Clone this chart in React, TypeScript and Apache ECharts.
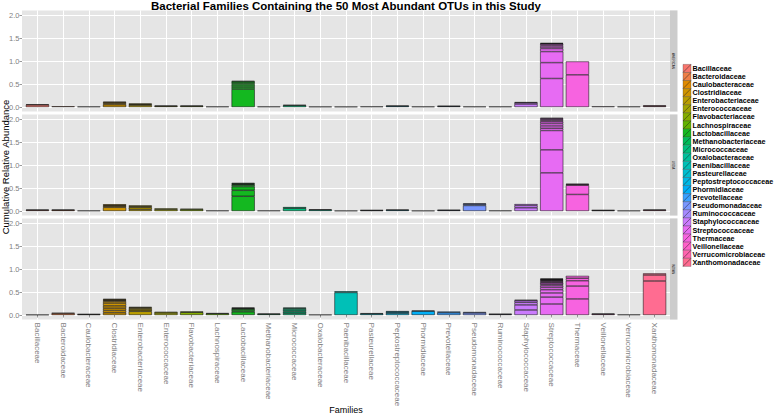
import React, { useEffect, useRef } from 'react';
import * as echarts from 'echarts';

const families = [
  'Bacillaceae', 'Bacteroidaceae', 'Caulobacteraceae', 'Clostridiaceae', 'Enterobacteriaceae',
  'Enterococcaceae', 'Flavobacteriaceae', 'Lachnospiraceae', 'Lactobacillaceae', 'Methanobacteriaceae',
  'Micrococcaceae', 'Oxalobacteraceae', 'Paenibacillaceae', 'Pasteurellaceae', 'Peptostreptococcaceae',
  'Phormidiaceae', 'Prevotellaceae', 'Pseudomonadaceae', 'Ruminococcaceae', 'Staphylococcaceae',
  'Streptococcaceae', 'Thermaceae', 'Veillonellaceae', 'Verrucomicrobiaceae', 'Xanthomonadaceae',
];

const familyColors = [
  '#F8766D', '#EF7F47', '#E08B00', '#CF9400', '#BA9E00',
  '#A2A500', '#85AD00', '#62B200', '#14B820', '#00BC59',
  '#00BF7D', '#00C19C', '#00C0B7', '#00BDD0', '#00B8E5',
  '#00AFF7', '#3BA1FF', '#7997FF', '#A58AFF', '#CA7BFD',
  '#E76BF3', '#F763E0', '#FF61CA', '#FF65AE', '#FF6C91',
];

const facetNames = ['AMERICAN', 'USDA', 'INDIAN'];
const yTickLabels = ['0.0', '0.5', '1.0', '1.5', '2.0'];

// stacked OTU abundances per family (bottom to top)
const americanSegments = [
  [0.045, 0.015], [0.015], [0.008], [0.05, 0.03, 0.02, 0.015], [0.04, 0.02, 0.015],
  [0.02, 0.01], [0.02, 0.01], [0.008], [0.39, 0.045, 0.045, 0.04, 0.03, 0.02], [0.008],
  [0.035, 0.01], [0.006], [0.005], [0.01], [0.02, 0.01],
  [0.008], [0.015, 0.01], [0.008], [0.008], [0.065, 0.03, 0.01],
  [0.62, 0.345, 0.24, 0.065, 0.035, 0.035, 0.03, 0.01, 0.01], [0.7, 0.29], [0.012], [0.008], [0.02, 0.015],
];

const usdaSegments = [
  [0.02, 0.01], [0.02, 0.01], [0.008], [0.08, 0.025, 0.02, 0.02], [0.035, 0.045, 0.02, 0.02],
  [0.035, 0.02], [0.03, 0.02], [0.008], [0.32, 0.13, 0.08, 0.035, 0.015, 0.015, 0.015], [0.008],
  [0.06, 0.025], [0.025, 0.01], [0.005], [0.012, 0.008], [0.02, 0.01],
  [0.005], [0.015, 0.01], [0.12, 0.03, 0.015], [0.008], [0.07, 0.05, 0.03],
  [0.83, 0.5, 0.42, 0.05, 0.05, 0.05, 0.04, 0.03, 0.02, 0.02, 0.015], [0.36, 0.2, 0.02, 0.01], [0.012, 0.008], [0.006], [0.02, 0.01],
];

const indianSegments = [
  [0.005], [0.03, 0.02], [0.012, 0.008], [0.05, 0.05, 0.05, 0.05, 0.06, 0.04, 0.02, 0.015, 0.015], [0.08, 0.03, 0.03, 0.02, 0.015],
  [0.045, 0.025], [0.06, 0.015], [0.03, 0.01], [0.07, 0.04, 0.025, 0.015, 0.01], [0.02, 0.01],
  [0.04, 0.035, 0.035, 0.035, 0.015], [0.005], [0.49, 0.025], [0.025, 0.015], [0.04, 0.025, 0.02],
  [0.085, 0.01], [0.05, 0.025], [0.045, 0.02], [0.015, 0.01], [0.11, 0.11, 0.055, 0.04, 0.015],
  [0.24, 0.15, 0.09, 0.07, 0.05, 0.04, 0.03, 0.03, 0.02, 0.02, 0.015, 0.015, 0.01, 0.01], [0.35, 0.28, 0.115, 0.055, 0.05], [0.02, 0.01], [0.008], [0.74, 0.13, 0.035],
];

const facetSegments = [americanSegments, usdaSegments, indianSegments];

const FONT = "'Liberation Sans', Arial, sans-serif";

export default function App() {
  const ref = useRef<HTMLDivElement>(null);
  useEffect(() => {
    document.body.style.margin = '0';
    const chart = echarts.init(ref.current!, null, { renderer: 'svg' });

    const panelLeft = 22;
    const panelWidth = 648;
    const unit = panelWidth / (families.length + 0.2);
    const panelTops = [10.4, 114.4, 218.4];
    const panelH = 101.2;
    const pxPerUnit = panelH / 2.2;

    const grids: any[] = [];
    const xAxes: any[] = [];
    const yAxes: any[] = [];
    const series: any[] = [];
    const graphics: any[] = [];

    // bar grids 0..2
    panelTops.forEach((top, f) => {
      grids.push({
        left: panelLeft + 0.1 * unit, width: families.length * unit, top, height: panelH,
        outerBoundsMode: 'none', containLabel: false,
      });
      const bottom = f === 2;
      xAxes.push({
        type: 'category', gridIndex: f, data: families,
        axisLine: { show: false },
        axisTick: { show: bottom, alignWithLabel: true, length: 2.5, lineStyle: { color: '#7F7F7F', width: 0.8 } },
        axisLabel: { show: bottom, rotate: -90, color: '#7F7F7F', fontSize: 8, fontFamily: FONT, margin: 3, interval: 0 },
        splitLine: { show: false },
      });
      yAxes.push({ type: 'value', gridIndex: f, min: -0.1, max: 2.1, show: false });
    });
    // vertical grid line grids 3..5
    panelTops.forEach((top, f) => {
      grids.push({ left: panelLeft - 0.4 * unit, width: (families.length + 1) * unit, top, height: panelH, outerBoundsMode: 'none' });
      xAxes.push({
        type: 'value', gridIndex: 3 + f, min: 0, max: families.length + 1, interval: 1,
        axisLine: { show: false }, axisTick: { show: false }, axisLabel: { show: false },
        splitLine: { show: true, lineStyle: { color: '#FFFFFF', width: 1 } },
      });
      yAxes.push({ type: 'value', gridIndex: 3 + f, min: 0, max: 1, show: false });
    });
    // horizontal grid line + y label grids 6..8
    panelTops.forEach((top, f) => {
      grids.push({ left: panelLeft, width: panelWidth, top: top + 0.1 * pxPerUnit, height: 2 * pxPerUnit, outerBoundsMode: 'none' });
      xAxes.push({ type: 'value', gridIndex: 6 + f, min: 0, max: 1, show: false });
      yAxes.push({
        type: 'value', gridIndex: 6 + f, min: 0, max: 2, interval: 0.5,
        axisLine: { show: false },
        axisTick: { show: true, length: 2.5, lineStyle: { color: '#7F7F7F', width: 0.8 } },
        axisLabel: {
          color: '#7F7F7F', fontSize: 7.5, fontFamily: FONT, margin: 2.5,
          formatter: (v: number) => yTickLabels[Math.round(v / 0.5)] ?? '',
        },
        splitLine: { show: true, lineStyle: { color: '#FFFFFF', width: 1 } },
      });
    });

    facetSegments.forEach((segs, f) => {
      const maxK = Math.max(...segs.map((s) => s.length));
      for (let k = 0; k < maxK; k++) {
        series.push({
          type: 'bar', xAxisIndex: f, yAxisIndex: f, stack: 'facet' + f, barWidth: '90%',
          silent: true,
          data: segs.map((s) => (s[k] !== undefined ? s[k] : null)),
          itemStyle: {
            color: (p: any) => familyColors[p.dataIndex],
            borderColor: '#000000', borderWidth: 0.5,
          },
        });
      }
    });

    // panel backgrounds and strips
    panelTops.forEach((top, f) => {
      graphics.push({ type: 'rect', z: -10, silent: true, shape: { x: panelLeft, y: top, width: panelWidth, height: panelH }, style: { fill: '#E5E5E5' } });
      graphics.push({ type: 'rect', z: -10, silent: true, shape: { x: panelLeft + panelWidth, y: top, width: 7.5, height: panelH }, style: { fill: '#CCCCCC' } });
      graphics.push({
        type: 'text', silent: true, x: panelLeft + panelWidth + 3.75, y: top + panelH / 2, rotation: -Math.PI / 2,
        style: { text: facetNames[f], fill: '#1A1A1A', fontSize: 3, fontFamily: FONT, align: 'center', verticalAlign: 'middle' },
      });
    });

    // titles
    graphics.push({
      type: 'text', silent: true, x: 346, y: 6,
      style: { text: 'Bacterial Families Containing the 50 Most Abundant OTUs in this Study', fill: '#000', fontSize: 11.5, fontWeight: 'bold', fontFamily: FONT, align: 'center', verticalAlign: 'middle' },
    });
    graphics.push({
      type: 'text', silent: true, x: 5, y: 167, rotation: Math.PI / 2,
      style: { text: 'Cumulative Relative Abundance', fill: '#000', fontSize: 9.5, fontFamily: FONT, align: 'center', verticalAlign: 'middle' },
    });
    graphics.push({
      type: 'text', silent: true, x: 346, y: 410,
      style: { text: 'Families', fill: '#000', fontSize: 9, fontFamily: FONT, align: 'center', verticalAlign: 'middle' },
    });

    // legend
    const legTop = 64.4;
    const keyH = 8.08;
    families.forEach((name, i) => {
      const y = legTop + i * keyH;
      graphics.push({ type: 'rect', silent: true, shape: { x: 683, y, width: 8, height: keyH }, style: { fill: familyColors[i], stroke: '#333', lineWidth: 0.3 } });
      graphics.push({ type: 'line', silent: true, shape: { x1: 683, y1: y + keyH, x2: 691, y2: y }, style: { stroke: '#222', lineWidth: 0.5 } });
      graphics.push({
        type: 'text', silent: true, x: 692.5, y: y + keyH / 2,
        style: { text: name, fill: '#000', fontSize: 7.2, fontWeight: 'bold', fontFamily: FONT, align: 'left', verticalAlign: 'middle' },
      });
    });

    chart.setOption({
      animation: false,
      backgroundColor: '#FFFFFF',
      grid: grids,
      xAxis: xAxes,
      yAxis: yAxes,
      series,
      graphic: graphics,
    });
    return () => chart.dispose();
  }, []);
  return <div ref={ref} style={{ width: 775, height: 415 }} />;
}
